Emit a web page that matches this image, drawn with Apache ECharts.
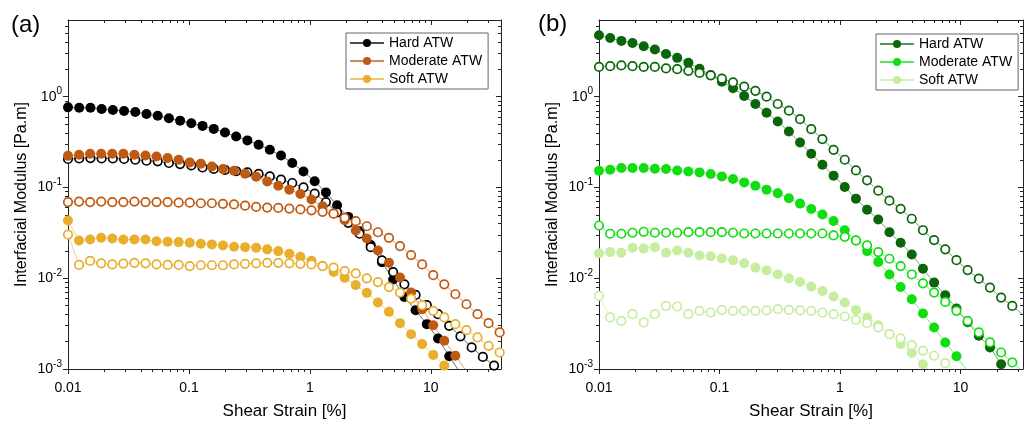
<!DOCTYPE html>
<html>
<head>
<meta charset="utf-8">
<script src="https://cdn.jsdelivr.net/npm/echarts@6/dist/echarts.min.js"></script>
<style>
  html, body { margin: 0; padding: 0; background: #fff; }
  #chart { width: 1024px; height: 425px; }
</style>
</head>
<body>
<div id="chart"></div>
<script>
// strain sweep points [%] (panel a moderate/soft)
const strainA = [0.01, 0.01234, 0.01524, 0.01881, 0.02323, 0.02868, 0.0354, 0.0437, 0.05395, 0.06661,
  0.08222, 0.1015, 0.1253, 0.1547, 0.191, 0.2358, 0.2911, 0.3593, 0.4436, 0.5476,
  0.6761, 0.8346, 1.03, 1.272, 1.57, 1.938, 2.393, 2.954, 3.648, 4.503,
  5.559, 6.863, 8.472, 10.46, 12.91, 15.94, 19.68, 24.29, 29.99, 37.03];
// strain sweep points [%] (panel a hard, all of panel b)
const strainB = [0.01, 0.01238, 0.01533, 0.01897, 0.02349, 0.02908, 0.036, 0.04456, 0.05516, 0.06829,
  0.08453, 0.1046, 0.1295, 0.1603, 0.1985, 0.2457, 0.3042, 0.3765, 0.4661, 0.577,
  0.7145, 0.8846, 1.095, 1.356, 1.678, 2.077, 2.572, 3.184, 3.94, 4.879,
  6.039, 7.476, 9.256, 11.46, 14.18, 17.56, 21.74, 26.91, 33.31, 41.24];

// panel (a) – filled = G', open = G''
const hardA_G1 = [0.765, 0.757, 0.757, 0.733, 0.715, 0.697, 0.679, 0.646, 0.618, 0.579,
  0.545, 0.51, 0.477, 0.442, 0.403, 0.364, 0.33, 0.295, 0.26, 0.225,
  0.186, 0.15, 0.117, 0.0883, 0.0636, 0.0474, 0.033, 0.0232, 0.015, 0.0097,
  0.00622, 0.00444, 0.00312, 0.00217, 0.00138, 0.0009];
const hardA_G2 = [0.206, 0.209, 0.211, 0.209, 0.209, 0.206, 0.202, 0.197, 0.194, 0.186,
  0.181, 0.175, 0.166, 0.16, 0.156, 0.151, 0.147, 0.141, 0.1324, 0.1218,
  0.112, 0.1002, 0.0855, 0.069, 0.0532, 0.0408, 0.0309, 0.022, 0.0157, 0.0117,
  0.00857, 0.00654, 0.00505, 0.00402, 0.00299, 0.00229, 0.00173, 0.00136, 0.00109, 0.00085];
const modA_G1 = [0.223, 0.229, 0.235, 0.235, 0.235, 0.235, 0.229, 0.225, 0.219, 0.211,
  0.202, 0.189, 0.183, 0.17, 0.16, 0.153, 0.142, 0.1315, 0.1167, 0.1046,
  0.0946, 0.0849, 0.0738, 0.0622, 0.0516, 0.0435, 0.0336, 0.0274, 0.0202, 0.0148,
  0.0102, 0.00695, 0.00456, 0.00304, 0.00205, 0.0014, 0.00095];
const modA_G2 = [0.069, 0.07, 0.069, 0.07, 0.069, 0.069, 0.07, 0.069, 0.069, 0.069,
  0.068, 0.068, 0.067, 0.067, 0.066, 0.065, 0.063, 0.061, 0.06, 0.0595,
  0.0586, 0.0573, 0.056, 0.0539, 0.0514, 0.0463, 0.0425, 0.0374, 0.0321, 0.0279,
  0.0226, 0.018, 0.0142, 0.0108, 0.00857, 0.00666, 0.00517, 0.00402, 0.0032, 0.00253];
const softA_G1 = [0.0432, 0.0261, 0.0267, 0.0279, 0.0274, 0.0267, 0.0267, 0.0267, 0.0256, 0.0253,
  0.025, 0.0246, 0.024, 0.0236, 0.023, 0.0222, 0.022, 0.0217, 0.0208, 0.0199,
  0.0186, 0.0172, 0.0156, 0.0137, 0.0117, 0.0101, 0.0084, 0.0069, 0.0054, 0.00426,
  0.0032, 0.00242, 0.00188, 0.00143, 0.00109, 0.0008];
const softA_G2 = [0.0303, 0.014, 0.0155, 0.0146, 0.0142, 0.0145, 0.0148, 0.0146, 0.0142, 0.014,
  0.014, 0.0136, 0.0139, 0.0139, 0.0139, 0.0142, 0.0144, 0.0146, 0.0148, 0.0148,
  0.0146, 0.0144, 0.0142, 0.0136, 0.0131, 0.012, 0.0113, 0.00997, 0.00908, 0.008,
  0.00695, 0.00597, 0.00505, 0.00437, 0.0037, 0.00312, 0.00268, 0.00223, 0.0018, 0.00152];

// panel (b)
const hardB_G1 = [4.76, 4.44, 4.12, 3.91, 3.6, 3.31, 2.96, 2.68, 2.36, 2.03,
  1.73, 1.46, 1.24, 1.02, 0.83, 0.667, 0.532, 0.413, 0.313, 0.235,
  0.178, 0.135, 0.101, 0.0753, 0.057, 0.0443, 0.0321, 0.0246, 0.0183, 0.0127,
  0.00895, 0.00649, 0.00464, 0.00328, 0.00232, 0.00173, 0.00113];
const hardB_G2 = [2.13, 2.17, 2.21, 2.17, 2.13, 2.13, 2.05, 2.01, 1.93, 1.83,
  1.72, 1.58, 1.44, 1.29, 1.16, 1.0, 0.831, 0.702, 0.565, 0.439,
  0.341, 0.26, 0.202, 0.154, 0.12, 0.0922, 0.0716, 0.0581, 0.0452, 0.0338,
  0.0263, 0.0208, 0.0158, 0.0123, 0.0099, 0.00789, 0.00612, 0.00495, 0.00392];
const modB_G1 = [0.153, 0.157, 0.164, 0.164, 0.164, 0.161, 0.16, 0.154, 0.15, 0.1466,
  0.1406, 0.1324, 0.124, 0.1137, 0.1046, 0.0946, 0.0865, 0.076, 0.0664, 0.058,
  0.0503, 0.0427, 0.0338, 0.0261, 0.0199, 0.0151, 0.011, 0.008, 0.00586, 0.00408,
  0.00287, 0.00196, 0.00138, 0.00095];
const modB_G2 = [0.0381, 0.0309, 0.0309, 0.0317, 0.0325, 0.0317, 0.0317, 0.0317, 0.0322, 0.0322,
  0.0322, 0.0322, 0.0317, 0.0311, 0.0311, 0.0311, 0.0311, 0.0311, 0.0311, 0.0311,
  0.0311, 0.0296, 0.0286, 0.0261, 0.023, 0.0194, 0.0164, 0.0136, 0.011, 0.00879,
  0.00695, 0.00548, 0.00437, 0.00339, 0.00253, 0.00196, 0.00152, 0.00118, 0.00092];
const softB_G1 = [0.0188, 0.0194, 0.0191, 0.0217, 0.0212, 0.022, 0.0191, 0.0202, 0.0191, 0.0178,
  0.0175, 0.0165, 0.0158, 0.0146, 0.0131, 0.0122, 0.011, 0.00997, 0.00908, 0.00809,
  0.00723, 0.00628, 0.0054, 0.00448, 0.0037, 0.00304, 0.00242, 0.00188, 0.0015, 0.00113,
  0.00088];
const softB_G2 = [0.00638, 0.0037, 0.00339, 0.00402, 0.00326, 0.00402, 0.00495, 0.00488, 0.00402, 0.00436,
  0.00419, 0.00448, 0.00436, 0.00436, 0.00436, 0.00442, 0.00456, 0.00448, 0.00442, 0.00436,
  0.00419, 0.00402, 0.00379, 0.00348, 0.0032, 0.00287, 0.00242, 0.00217, 0.00183, 0.00159,
  0.0014, 0.00116, 0.00095];

const names = ['Hard ATW', 'Moderate ATW', 'Soft ATW'];
const colorsA = ['#000000', '#bf5a12', '#e8ae2c'];
const colorsB = ['#0b660b', '#12dd12', '#c6eda0'];

const xMajor = [0.01, 0.1, 1, 10];
const yMajor = [0.001, 0.01, 0.1, 1];

const FONT = '"Liberation Sans", Arial, sans-serif';

function minorTicks(lo, hi) {
  const out = [];
  for (let e = -4; e <= 2; e++) {
    for (let d = 2; d <= 9; d++) {
      const v = +(d * Math.pow(10, e)).toPrecision(6);
      if (v > lo && v < hi) out.push(v);
    }
  }
  return out;
}

// four overlaid axes per direction: labelled main, minor ticks, mirrored main, mirrored minor
function makeAxes(dim, gridIndex, min, max) {
  const majors = dim === 'x' ? xMajor : yMajor;
  const minors = minorTicks(min, max);
  const pos = dim === 'x' ? ['bottom', 'top'] : ['left', 'right'];
  const base = {
    type: 'log', logBase: 10, gridIndex, min, max,
    splitLine: { show: false },
    axisLine: { show: false, onZero: false, lineStyle: { color: '#222', width: 1 } },
    axisLabel: { show: false },
    axisTick: { show: true }
  };
  const main = Object.assign({}, base, {
    position: pos[0],
    axisLine: { show: true, onZero: false, lineStyle: { color: '#222', width: 1 } },
    axisTick: { show: true, customValues: majors, length: 5, inside: false, lineStyle: { color: '#222' } }
  });
  if (dim === 'x') {
    main.axisLabel = {
      show: true, customValues: majors, fontSize: 14, color: '#000', margin: 12, fontFamily: FONT,
      formatter: v => String(+v.toPrecision(3))
    };
    main.name = 'Shear Strain [%]';
    main.nameLocation = 'middle';
    main.nameGap = 34;
    main.nameTextStyle = { fontSize: 17, color: '#000', fontFamily: FONT };
  } else {
    main.axisLabel = {
      show: true, customValues: majors, fontSize: 14, color: '#000', margin: 6, fontFamily: FONT,
      lineHeight: 20,
      formatter: v => '10{s|' + Math.round(Math.log10(v)) + '}',
      rich: { s: { fontSize: 10, lineHeight: 13, verticalAlign: 'top', fontFamily: FONT, color: '#000' } }
    };
    main.name = 'Interfacial Modulus [Pa.m]';
    main.nameLocation = 'middle';
    main.nameGap = 38;
    main.nameTextStyle = { fontSize: 16, color: '#000', fontFamily: FONT };
  }
  const minor = Object.assign({}, base, {
    position: pos[0],
    axisTick: { show: true, customValues: minors, length: 3, inside: false, lineStyle: { color: '#222' } }
  });
  const mirror = Object.assign({}, base, {
    position: pos[1],
    axisLine: { show: true, onZero: false, lineStyle: { color: '#222', width: 1 } },
    axisTick: { show: true, customValues: majors, length: 5, inside: true, lineStyle: { color: '#222' } }
  });
  const mirrorMinor = Object.assign({}, base, {
    position: pos[1],
    axisTick: { show: true, customValues: minors, length: 3, inside: true, lineStyle: { color: '#222' } }
  });
  return [main, minor, mirror, mirrorMinor];
}

function pairs(xs, ys) {
  return ys.map((y, i) => [xs[i], y]);
}

function seriesPair(name, color, xs, g1, g2, axisIndex) {
  const line = { color: color, width: 0.8, opacity: 0.7 };
  return [
    {
      name: name, type: 'line', xAxisIndex: axisIndex, yAxisIndex: axisIndex,
      symbol: 'circle', symbolSize: 10, clip: true,
      itemStyle: { color: color },
      lineStyle: line,
      data: pairs(xs, g1)
    },
    {
      name: name + ' G2', type: 'line', xAxisIndex: axisIndex, yAxisIndex: axisIndex,
      symbol: 'circle', symbolSize: 8.5, clip: true,
      itemStyle: { color: '#fff', borderColor: color, borderWidth: 1.7 },
      lineStyle: line,
      data: pairs(xs, g2)
    }
  ];
}

const series = [].concat(
  seriesPair(names[0], colorsA[0], strainB, hardA_G1, hardA_G2, 0),
  seriesPair(names[1], colorsA[1], strainA, modA_G1, modA_G2, 0),
  seriesPair(names[2], colorsA[2], strainA, softA_G1, softA_G2, 0),
  seriesPair(names[0] + ' (b)', colorsB[0], strainB, hardB_G1, hardB_G2, 4),
  seriesPair(names[1] + ' (b)', colorsB[1], strainB, modB_G1, modB_G2, 4),
  seriesPair(names[2] + ' (b)', colorsB[2], strainB, softB_G1, softB_G2, 4)
);

const legendBase = {
  orient: 'vertical',
  itemWidth: 34, itemHeight: 10, itemGap: 4,
  padding: [3, 6, 3, 3],
  borderColor: '#666', borderWidth: 1, backgroundColor: '#fff',
  textStyle: { fontSize: 14, color: '#000', fontFamily: FONT },
  selectedMode: false
};

const option = {
  animation: false,
  backgroundColor: '#fff',
  textStyle: { fontFamily: FONT },
  title: [
    { text: '(a)', left: 6, top: 8, textStyle: { fontSize: 24, fontWeight: 'normal', color: '#000', fontFamily: FONT } },
    { text: '(b)', left: 533, top: 7, textStyle: { fontSize: 24, fontWeight: 'normal', color: '#000', fontFamily: FONT } }
  ],
  grid: [
    { left: 68, top: 20, width: 433, height: 350 },
    { left: 599, top: 20, width: 424, height: 350 }
  ],
  xAxis: [].concat(makeAxes('x', 0, 0.01, 38), makeAxes('x', 1, 0.01, 33)),
  yAxis: [].concat(makeAxes('y', 0, 0.001, 7), makeAxes('y', 1, 0.001, 7)),
  legend: [
    Object.assign({}, legendBase, { left: 346, top: 33, data: names }),
    Object.assign({}, legendBase, {
      left: 876, top: 34,
      data: names.map(n => n + ' (b)'),
      formatter: n => n.replace(' (b)', '')
    })
  ],
  series: series
};

const chart = echarts.init(document.getElementById('chart'));
chart.setOption(option);
</script>
</body>
</html>
